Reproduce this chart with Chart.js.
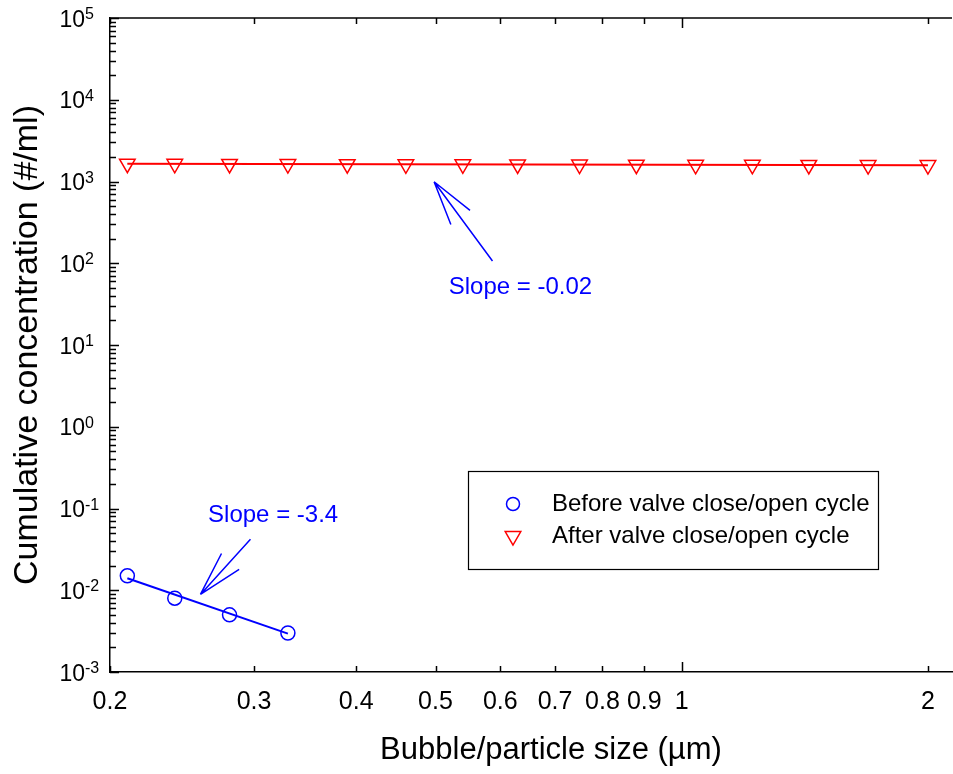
<!DOCTYPE html>
<html>
<head>
<meta charset="utf-8">
<title>Cumulative concentration vs bubble/particle size</title>
<script src="https://cdn.jsdelivr.net/npm/chart.js@4.4.0/dist/chart.umd.min.js"></script>
<style>
  html, body { margin: 0; padding: 0; background: #fff; }
  #wrap { width: 953px; height: 774px; }
</style>
</head>
<body>
<div id="wrap"><canvas id="sizeChart" width="953" height="774"></canvas></div>
<script>
// Values
const beforeSize = [0.21, 0.24, 0.28, 0.33];
const beforeConc = [0.015, 0.008, 0.005, 0.003];

const afterSize = [0.21, 0.24, 0.28, 0.33, 0.39, 0.46, 0.54, 0.63, 0.75, 0.88, 1.04, 1.22, 1.43, 1.69, 2.0];
const afterConc = [1650, 1645, 1640, 1635, 1630, 1625, 1620, 1615, 1610, 1605, 1600, 1600, 1595, 1590, 1590];

// power-law fit lines (end points)
const fitBeforeSize = [0.21, 0.33];
const fitBeforeConc = [0.0140, 0.00295];
const fitAfterSize = [0.21, 2.0];
const fitAfterConc = [1650, 1585];

const xTicks = [0.2, 0.3, 0.4, 0.5, 0.6, 0.7, 0.8, 0.9, 1, 2];
const yTicks = [1e-3, 1e-2, 1e-1, 1, 1e1, 1e2, 1e3, 1e4, 1e5];

const blue = '#0000ff';
const red = '#ff0000';
const FONT = '"Liberation Sans", Arial, Helvetica, sans-serif';
const xTitle = 'Bubble/particle size (µm)';

function toPoints(xs, ys) {
    return xs.map((v, i) => ({ x: v, y: ys[i] }));
}

function isDecade(v) {
    const l = Math.log10(v);
    return Math.abs(l - Math.round(l)) < 1e-9;
}

// inward tick marks, top frame line, 10^n labels and the x title
const frameTicks = {
    id: 'frameTicks',
    afterDraw(chart) {
        const { ctx, chartArea: a, scales: { x, y } } = chart;
        ctx.save();
        ctx.strokeStyle = '#000';
        ctx.lineWidth = 1.5;
        ctx.beginPath();
        ctx.moveTo(a.left, a.top);
        ctx.lineTo(a.right, a.top);
        ctx.stroke();

        ctx.beginPath();
        xTicks.forEach(v => {
            const px = Math.round(x.getPixelForValue(v)) + 0.5;
            const len = isDecade(v) ? 10 : 6;
            ctx.moveTo(px, a.bottom);
            ctx.lineTo(px, a.bottom - len);
            ctx.moveTo(px, a.top);
            ctx.lineTo(px, a.top + len);
        });
        for (let e = -3; e <= 5; e++) {
            for (let k = 1; k <= 9; k++) {
                const v = k * Math.pow(10, e);
                if (v > 1e5 * 1.0001) break;
                const py = Math.round(y.getPixelForValue(v)) + 0.5;
                const len = k === 1 ? 9 : 6;
                ctx.moveTo(a.left, py);
                ctx.lineTo(a.left + len, py);
            }
        }
        ctx.stroke();

        // y tick labels: "10" with raised exponent
        ctx.fillStyle = '#000';
        ctx.textBaseline = 'alphabetic';
        yTicks.forEach(v => {
            const py = y.getPixelForValue(v);
            const e = Math.round(Math.log10(v));
            ctx.font = '23px ' + FONT;
            ctx.textAlign = 'right';
            ctx.fillText('10', a.left - 25, py + 8.5);
            ctx.font = '16px ' + FONT;
            ctx.textAlign = 'left';
            ctx.fillText(String(e), a.left - 25, py + 1);
        });

        // x axis title (centred on the full SigmaPlot frame, a bit right of the cropped area)
        ctx.font = '31px ' + FONT;
        ctx.textAlign = 'center';
        ctx.textBaseline = 'middle';
        ctx.fillText(xTitle, (a.left + a.right) / 2 + 20, 750);
        ctx.restore();
    }
};

// slope annotations (arrows + text), anchored in data coordinates
const notes = [
    { text: 'Slope = -3.4', at: [0.2636, 0.0833], tip: [0.258, 0.0089], tail: [0.297, 0.042] },
    { text: 'Slope = -0.02', at: [0.519, 51.2], tip: [0.498, 994], tail: [0.587, 106.5] }
];

const slopeNotes = {
    id: 'slopeNotes',
    afterDatasetsDraw(chart) {
        const { ctx, scales: { x, y } } = chart;
        ctx.save();
        ctx.strokeStyle = blue;
        ctx.fillStyle = blue;
        ctx.lineWidth = 1.5;
        notes.forEach(n => {
            const tx = x.getPixelForValue(n.tip[0]), ty = y.getPixelForValue(n.tip[1]);
            const ex = x.getPixelForValue(n.tail[0]), ey = y.getPixelForValue(n.tail[1]);
            const ang = Math.atan2(ey - ty, ex - tx);
            ctx.beginPath();
            ctx.moveTo(tx, ty);
            ctx.lineTo(ex, ey);
            [-1, 1].forEach(s => {
                const b = ang + s * 15 * Math.PI / 180;
                ctx.moveTo(tx, ty);
                ctx.lineTo(tx + 46 * Math.cos(b), ty + 46 * Math.sin(b));
            });
            ctx.stroke();
            ctx.font = '24px ' + FONT;
            ctx.textAlign = 'left';
            ctx.textBaseline = 'middle';
            ctx.fillText(n.text, x.getPixelForValue(n.at[0]), y.getPixelForValue(n.at[1]));
        });
        ctx.restore();
    }
};

// boxed legend inside the plot
const boxLegend = {
    id: 'boxLegend',
    afterDraw(chart) {
        const { ctx, chartArea: a } = chart;
        const left = a.left + 358, top = a.top + 453, w = 410, h = 98;
        ctx.save();
        ctx.strokeStyle = '#000';
        ctx.lineWidth = 1.2;
        ctx.strokeRect(left + 0.5, top + 0.5, w, h);

        const mx = left + 45;
        const tx = left + 84;
        const r1 = top + 33, r2 = top + 65;

        ctx.lineWidth = 1.5;
        ctx.strokeStyle = blue;
        ctx.beginPath();
        ctx.arc(mx, r1, 6.5, 0, Math.PI * 2);
        ctx.stroke();

        ctx.strokeStyle = red;
        const rr = 9;
        ctx.beginPath();
        ctx.moveTo(mx, r2 + rr);
        ctx.lineTo(mx - rr * Math.sin(Math.PI / 3), r2 - rr / 2);
        ctx.lineTo(mx + rr * Math.sin(Math.PI / 3), r2 - rr / 2);
        ctx.closePath();
        ctx.stroke();

        ctx.fillStyle = '#000';
        ctx.font = '24px ' + FONT;
        ctx.textAlign = 'left';
        ctx.textBaseline = 'middle';
        ctx.fillText(chart.data.datasets[0].label, tx, r1);
        ctx.fillText(chart.data.datasets[1].label, tx, r2);
        ctx.restore();
    }
};

function noScalePadding(s) {
    s.paddingTop = 0;
    s.paddingBottom = 0;
    s.paddingLeft = 0;
    s.paddingRight = 0;
}

function createSizeChart() {
    const ctx = document.getElementById('sizeChart').getContext('2d');
    new Chart(ctx, {
        type: 'scatter',
        data: {
            datasets: [
                {
                    label: 'Before valve close/open cycle',
                    data: toPoints(beforeSize, beforeConc),
                    borderColor: blue,
                    backgroundColor: 'rgba(0,0,0,0)',
                    pointStyle: 'circle',
                    pointRadius: 7,
                    pointBorderWidth: 1.5,
                    showLine: false
                },
                {
                    label: 'After valve close/open cycle',
                    data: toPoints(afterSize, afterConc),
                    borderColor: red,
                    backgroundColor: 'rgba(0,0,0,0)',
                    pointStyle: 'triangle',
                    pointRotation: 180,
                    pointRadius: 9,
                    pointBorderWidth: 1.5,
                    showLine: false
                },
                {
                    label: 'Fit before',
                    data: toPoints(fitBeforeSize, fitBeforeConc),
                    borderColor: blue,
                    borderWidth: 2,
                    pointRadius: 0,
                    showLine: true
                },
                {
                    label: 'Fit after',
                    data: toPoints(fitAfterSize, fitAfterConc),
                    borderColor: red,
                    borderWidth: 2,
                    pointRadius: 0,
                    showLine: true
                }
            ]
        },
        options: {
            responsive: false,
            animation: false,
            devicePixelRatio: 1,
            layout: { autoPadding: false, padding: { top: 18, right: 1, left: 0, bottom: 0 } },
            plugins: {
                legend: { display: false },
                tooltip: { enabled: false }
            },
            scales: {
                x: {
                    type: 'logarithmic',
                    min: 0.2,
                    max: 2.14,
                    bounds: 'data',
                    afterBuildTicks: s => { s.ticks = xTicks.map(v => ({ value: v })); },
                    afterFit: s => { s.height = 102; noScalePadding(s); },
                    grid: { display: false },
                    border: { color: '#000', width: 1.5 },
                    ticks: {
                        autoSkip: false,
                        maxRotation: 0,
                        padding: 7,
                        color: '#000',
                        font: { family: FONT, size: 25 },
                        callback: v => String(v)
                    },
                    title: { display: false }
                },
                y: {
                    type: 'logarithmic',
                    min: 1e-3,
                    max: 1e5,
                    bounds: 'data',
                    afterBuildTicks: s => { s.ticks = yTicks.map(v => ({ value: v })); },
                    afterFit: s => { s.width = 110; noScalePadding(s); },
                    grid: { display: false },
                    border: { color: '#000', width: 1.5 },
                    ticks: { display: false },
                    title: {
                        display: true,
                        text: 'Cumulative concentration (#/ml)',
                        color: '#000',
                        font: { family: FONT, size: 34 },
                        padding: { top: 7, bottom: 0 }
                    }
                }
            }
        },
        plugins: [frameTicks, slopeNotes, boxLegend]
    });
}

window.onload = function() {
    createSizeChart();
};
</script>
</body>
</html>
